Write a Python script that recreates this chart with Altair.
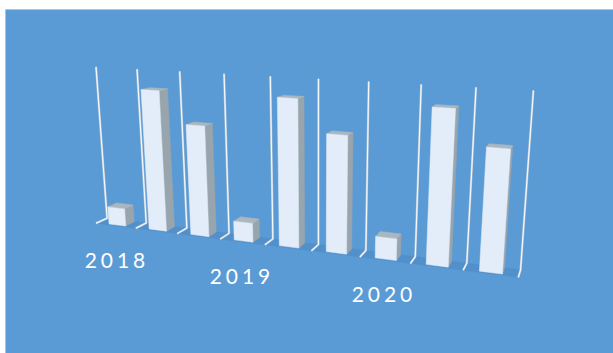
import altair as alt
import numpy as np
import pandas as pd

YEARS = ["2018", "2019", "2020"]
SERIES_VALUES = [
    [0.115, 0.89, 0.695],
    [0.12, 0.895, 0.705],
    [0.13, 0.895, 0.70],
]
BACKGROUND = "#5b9bd5"
FLOOR = "#5290cb"
FRONT = "#e3edf9"
SIDE = "#99a5ad"
TOP = "#abb6be"

# Camera calibration: where each slot boundary's wall top, wall base and floor foot land.
WALL_TOPS = [(96, 67), (137, 69), (179, 72), (224, 73), (271, 76),
             (319, 79), (369, 82), (421, 84), (476, 87), (533, 91)]
WALL_BASES = [(107, 217), (147, 223), (187, 229), (229, 234), (272, 240),
              (318, 244), (365, 250), (416, 257), (467, 263), (521, 269)]
WALL_FEET = [(96, 223), (136, 228), (177, 234), (220, 239), (265, 245),
             (311, 251), (360, 257), (411, 263), (463, 271), (518, 277)]


def fit_camera():
    rows, rhs = [], []
    for h, d, pts in ((1, 0, WALL_TOPS), (0, 0, WALL_BASES), (0, 1, WALL_FEET)):
        for s, (px, py) in enumerate(pts):
            rows.append([s, h, d, 1, 0, 0, 0, 0, -s * px, -h * px, -d * px])
            rhs.append(px)
            rows.append([0, 0, 0, 0, s, h, d, 1, -s * py, -h * py, -d * py])
            rhs.append(py)
    p = np.linalg.lstsq(np.array(rows, float), np.array(rhs, float), rcond=None)[0]
    return np.append(p, 1.0).reshape(3, 4)


CAMERA = fit_camera()


def project(s, h, d):
    x, y, w = CAMERA @ np.array([s, h, d, 1.0])
    return x / w, y / w


def polygon_rows(face, corners):
    rows = []
    for i, (s, h, d) in enumerate(corners):
        x, y = project(s, h, d)
        rows.append({"face": face, "vertex": i, "x": x, "y": y})
    return rows


side_rows, top_rows, front_rows, wall_rows = [], [], [], []
values = [v for group in SERIES_VALUES for v in group]
HALF_WIDTH, D0, D1 = 0.21, 0.05, 0.85
for i, v in enumerate(values):
    s0, s1 = i + 0.5 - HALF_WIDTH, i + 0.5 + HALF_WIDTH
    front_rows += polygon_rows(i, [(s0, 0, D1), (s1, 0, D1), (s1, v, D1), (s0, v, D1)])
    side_rows += polygon_rows(i, [(s1, 0, D1), (s1, 0, D0), (s1, v, D0), (s1, v, D1)])
    top_rows += polygon_rows(i, [(s0, v, D1), (s1, v, D1), (s1, v, D0), (s0, v, D0)])

for i in range(10):
    wall_rows += polygon_rows(i, [(i, 1, 0), (i, 0, 0), (i, 0, 1)])

floor_rows = polygon_rows(0, [(0, 0, 0), (9, 0, 0), (9, 0, 1), (0, 0, 1)])

x_scale = alt.Scale(domain=[0, 613], range=[0, 613])
y_scale = alt.Scale(domain=[0, 353], range=[0, 353])


def faces(rows, fill):
    return alt.Chart(pd.DataFrame(rows)).mark_line(
        interpolate="linear-closed", fill=fill, stroke=fill, strokeWidth=0.5
    ).encode(
        x=alt.X("x:Q", scale=x_scale, axis=None),
        y=alt.Y("y:Q", scale=y_scale, axis=None),
        detail="face:N",
        order="vertex:Q",
    )


def wall_lines(color, width):
    return alt.Chart(pd.DataFrame(wall_rows)).mark_line(
        stroke=color, strokeWidth=width, strokeJoin="round"
    ).encode(
        x=alt.X("x:Q", scale=x_scale, axis=None),
        y=alt.Y("y:Q", scale=y_scale, axis=None),
        detail="face:N",
        order="vertex:Q",
    )


panel = alt.Chart(pd.DataFrame({"a": [0]})).mark_rect(
    fill=BACKGROUND, stroke="#b9c4cf", strokeWidth=1
).encode(x=alt.value(5.5), x2=alt.value(640), y=alt.value(9.5), y2=alt.value(380))

label_positions = [(115, 262), (240, 278), (382, 296)]
labels = [
    alt.Chart(pd.DataFrame({"t": ["\u2009\u200a".join(year)]})).mark_text(
        color="white", font="Lato", fontSize=21, align="center", baseline="middle"
    ).encode(text="t:N", x=alt.value(px), y=alt.value(py))
    for year, (px, py) in zip(YEARS, label_positions)
]

chart = alt.layer(
    panel,
    faces(floor_rows, FLOOR),
    wall_lines("#b4c3d2", 2.2),
    wall_lines("#f6f9fc", 1.1),
    faces(side_rows, SIDE),
    faces(top_rows, TOP),
    faces(front_rows, FRONT),
    *labels,
).properties(
    width=613, height=353, padding=0, background="white",
    autosize=alt.AutoSizeParams(type="none"),
).configure_view(stroke=None)

chart.save("out.html", embed_options={"renderer": "svg", "actions": False})
